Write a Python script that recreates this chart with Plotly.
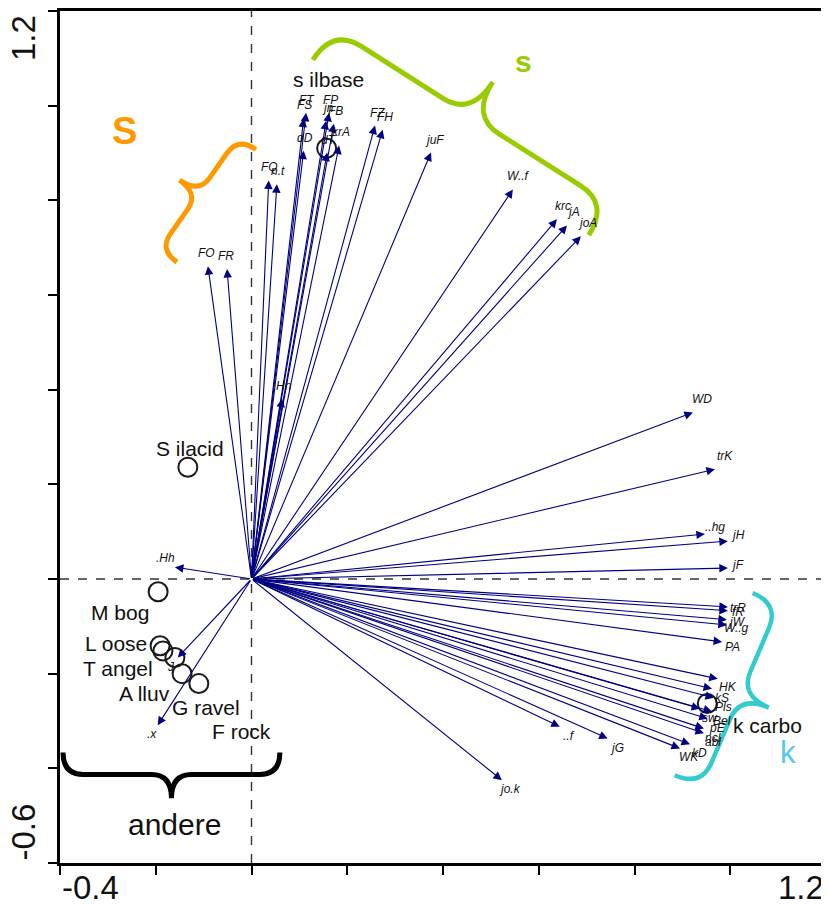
import numpy as np
import plotly.graph_objects as go

# ---------------- data ----------------
var_names = ["FO", "FR", "FQ", "n.t", "FT", "FS", "dD", "FP", "jn", "FB", "dT", "krA",
             "FZ", "FH", "juF", "W..f", "krc", "jA", "joA", "Hn",
             "WD", "trK", "..hg", "jH", "jF", "trR", "fR", "jW", "W..g", "PA",
             "HK", "kS", "Pls", "sw", "Bel", "pE", "ncl", "abl", "kD", "WK",
             "jG", "..f", "jo.k", ".Hh", ".x", "J"]
var_x = [-0.091, -0.051, 0.036, 0.053, 0.114, 0.109, 0.109, 0.162, 0.156, 0.172, 0.158, 0.183,
         0.258, 0.274, 0.375, 0.546, 0.638, 0.659, 0.688, 0.064,
         0.922, 0.968, 0.947, 0.995, 0.995, 0.995, 0.995, 0.993, 0.993, 0.983,
         0.974, 0.962, 0.966, 0.937, 0.962, 0.953, 0.945, 0.945, 0.916, 0.895,
         0.744, 0.644, 0.523, -0.160, -0.196, -0.154]
var_y = [0.661, 0.655, 0.842, 0.834, 0.985, 0.973, 0.905, 0.985, 0.968, 0.962, 0.901, 0.916,
         0.958, 0.949, 0.901, 0.823, 0.760, 0.747, 0.724, 0.381,
         0.352, 0.232, 0.095, 0.080, 0.023, -0.059, -0.067, -0.086, -0.097, -0.133,
         -0.211, -0.232, -0.251, -0.274, -0.280, -0.295, -0.316, -0.326, -0.349, -0.358,
         -0.337, -0.312, -0.425, 0.025, -0.309, -0.166]

site_names = ["S ilacid", "s ilbase", "k carbo", "M bog", "L oose", "T angel",
              "A lluv", "G ravel", "F rock"]
site_x = [-0.133, 0.157, 0.952, -0.195, -0.191, -0.185, -0.160, -0.145, -0.110]
site_y = [0.236, 0.910, -0.263, -0.027, -0.141, -0.152, -0.166, -0.200, -0.221]

x_ticks = [-0.4, -0.2, 0.0, 0.2, 0.4, 0.6, 0.8, 1.0, 1.2]
y_ticks = [-0.6, -0.4, -0.2, 0.0, 0.2, 0.4, 0.6, 0.8, 1.0, 1.2]
x_range = [-0.4, 1.2]
y_range = [-0.6, 1.2]

# ---------------- layout constants ----------------
# the page body has an 8px margin, so the figure is 8px smaller than the window
W, H = 821, 902
ML, MR, MT, MB = 52, 3, 0, 47
PW, PH = W - ML - MR, H - MT - MB
SX = PW / (x_range[1] - x_range[0])
SY = PH / (y_range[1] - y_range[0])
FONT = "Liberation Sans, Arial, sans-serif"
NAVY = "#000080"

# site-label pixel offsets (dx right, dy down)
site_label_off = [(2, -19), (2, -69), (60, 22), (-38, 21), (-44, -2), (-45, 18),
                  (-30, 36), (24, 34), (43, 48)]

fig = go.Figure()

annotations = []
# arrows
for name, x, y in zip(var_names, var_x, var_y):
    annotations.append(dict(x=x, y=y, ax=0, ay=0, xref="x", yref="y", axref="x", ayref="y",
                            text="", showarrow=True, arrowhead=2, arrowsize=1.55,
                            arrowwidth=1.1, arrowcolor=NAVY))
    dx, dy = x * SX, -y * SY
    L = np.hypot(dx, dy)
    ux, uy = dx / L, dy / L
    ox = 10 * ux
    oy = float(np.clip(50 * uy, -11, 11)) - 2
    annotations.append(dict(x=x, y=y, xref="x", yref="y", text=f"<i>{name}</i>",
                            showarrow=False, xshift=ox, yshift=-oy,
                            font=dict(family=FONT, size=12, color="#111111")))

# site labels
for name, x, y, (ox, oy) in zip(site_names, site_x, site_y, site_label_off):
    annotations.append(dict(x=x, y=y, xref="x", yref="y", text=name, showarrow=False,
                            xshift=ox, yshift=-oy,
                            font=dict(family=FONT, size=21, color="#111111")))

fig.add_trace(go.Scatter(x=site_x, y=site_y, mode="markers",
                         marker=dict(symbol="circle-open", size=19, color="#1a1a1a",
                                     line=dict(width=2, color="#1a1a1a")),
                         hoverinfo="skip", showlegend=False))


# ---------------- braces ----------------
def brace_path(x0, y0, x1, y1, depth, side):
    A = np.array([x0 * SX, y0 * SY])
    B = np.array([x1 * SX, y1 * SY])
    L = np.linalg.norm(B - A)
    u = (B - A) / L
    n = np.array([-u[1], u[0]]) * side
    h = depth * 0.48
    c = h * 0.9
    M = (A + B) / 2
    pts = [A, A + h * n, A + h * n + c * u, M - c * u + h * n, M + h * n, M + depth * n,
           M + h * n, M + c * u + h * n, B - c * u + h * n, B + h * n, B]
    P = [f"{p[0] / SX:.5f},{p[1] / SY:.5f}" for p in pts]
    return (f"M{P[0]} Q{P[1]} {P[2]} L{P[3]} Q{P[4]} {P[5]} "
            f"Q{P[6]} {P[7]} L{P[8]} Q{P[9]} {P[10]}")


braces = [
    (-0.1557, 0.6695, 0.0092, 0.9074, 45, 1, "#FF9900", 5),
    (0.1282, 1.0968, 0.7044, 0.7263, 78, 1, "#99CC00", 5),
    (1.0468, -0.0295, 0.8840, -0.4147, 60, 1, "#33CCCC", 4.5),
    (-0.3937, -0.3663, 0.0593, -0.3663, 46, -1, "#000000", 5),
]
shapes = [
    dict(type="line", x0=0, x1=0, y0=y_range[0], y1=y_range[1], xref="x", yref="y",
         line=dict(color="#333333", width=1.4, dash="dash"), layer="below"),
    dict(type="line", x0=x_range[0], x1=x_range[1], y0=0, y1=0, xref="x", yref="y",
         line=dict(color="#333333", width=1.4, dash="dash"), layer="below"),
]
for x0, y0, x1, y1, d, s, col, lw in braces:
    shapes.append(dict(type="path", path=brace_path(x0, y0, x1, y1, d, s), xref="x", yref="y",
                       line=dict(color=col, width=lw), layer="above"))

# group letters
annotations += [
    dict(x=-0.266, y=0.947, xref="x", yref="y", text="<b>S</b>", showarrow=False,
         font=dict(family=FONT, size=38, color="#FF9900")),
    dict(x=0.569, y=1.093, xref="x", yref="y", text="<b>s</b>", showarrow=False,
         font=dict(family=FONT, size=30, color="#99CC00")),
    dict(x=1.120, y=-0.366, xref="x", yref="y", text="k", showarrow=False,
         font=dict(family=FONT, size=31, color="#55C8F5")),
    dict(x=-0.160, y=-0.518, xref="x", yref="y", text="andere", showarrow=False,
         font=dict(family=FONT, size=30, color="#111111")),
]

# axis end labels
annotations += [
    dict(x=x_ticks[0], y=0, xref="x", yref="paper", text=f"{x_ticks[0]:.1f}", showarrow=False,
         xanchor="left", yanchor="top", yshift=-4, font=dict(family=FONT, size=33, color="#111")),
    dict(x=x_ticks[-1], y=0, xref="x", yref="paper", text=f"{x_ticks[-1]:.1f}", showarrow=False,
         xanchor="right", yanchor="top", yshift=-4, font=dict(family=FONT, size=33, color="#111")),
    dict(x=(15 - ML) / PW, y=y_ticks[-1], xref="paper", yref="y", text=f"{y_ticks[-1]:.1f}",
         showarrow=False, textangle=-90, xanchor="center", yanchor="top", yshift=-2,
         font=dict(family=FONT, size=33, color="#111")),
    dict(x=(15 - ML) / PW, y=y_ticks[0], xref="paper", yref="y", text=f"{y_ticks[0]:.1f}",
         showarrow=False, textangle=-90, xanchor="center", yanchor="bottom",
         font=dict(family=FONT, size=33, color="#111")),
]

axis_common = dict(showgrid=False, zeroline=False, showline=True, linewidth=2.5,
                   linecolor="#000000", mirror=True, ticks="outside", ticklen=9,
                   tickwidth=1.5, tickcolor="#000000", showticklabels=False)
fig.update_layout(
    width=W, height=H, margin=dict(l=ML, r=MR, t=MT, b=MB, pad=0),
    paper_bgcolor="white", plot_bgcolor="white",
    xaxis=dict(range=x_range, tickvals=x_ticks, **axis_common),
    yaxis=dict(range=y_range, tickvals=y_ticks, **axis_common),
    annotations=annotations, shapes=shapes, showlegend=False,
)
fig.write_html("out.html")
